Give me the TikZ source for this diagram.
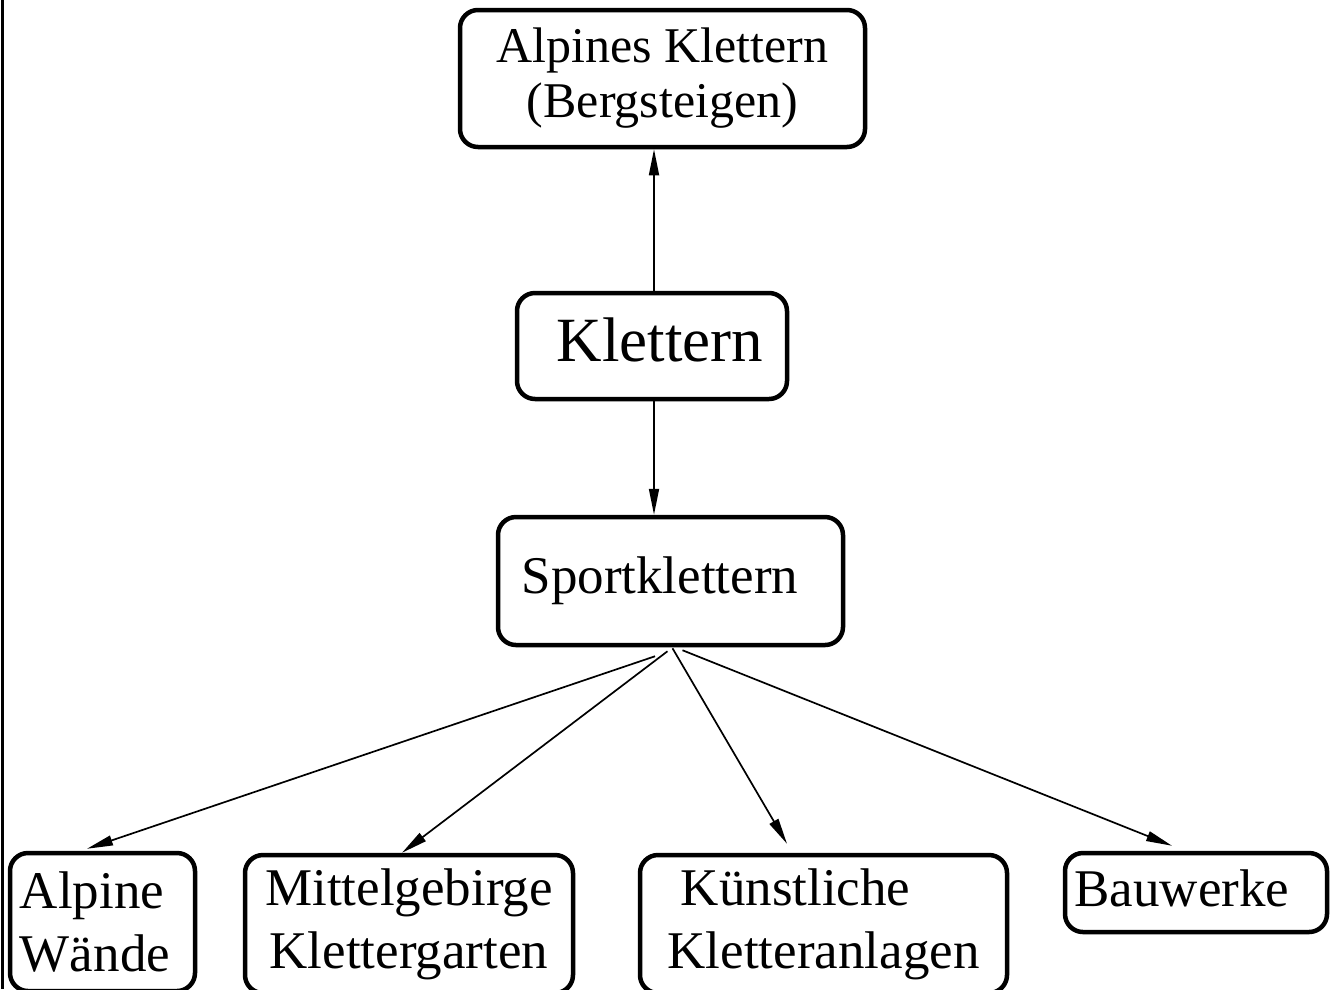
\documentclass[tikz,border=0pt]{standalone}
\usepackage{fontspec}
\setmainfont{Liberation Serif}
\usetikzlibrary{arrows.meta}
\tikzset{
  box/.style={draw, line width=4.5pt, rounded corners=18pt, align=center, inner sep=0pt, font=\fontsize{53}{63}\selectfont},
  edge/.style={-{Triangle[length=26pt,width=10pt]}, line width=1.7pt}
}

\begin{document}
\begin{tikzpicture}[x=1pt, y=-1pt]
    \useasboundingbox (0,0) rectangle (1332,989);
    \clip (0,0) rectangle (1332,989);

    % Rand links
    \draw[line width=3pt] (2,0) -- (2,989);

    % Oben
    \node[box, minimum width=405pt, minimum height=137pt, font=\fontsize{50}{55}\selectfont] (alpin) at (662.5,78.5) {Alpines Klettern\\(Bergsteigen)};

    % Mitte
    \node[box, minimum width=270pt, minimum height=106pt, text depth=12pt, font=\fontsize{63}{70}\selectfont] (klett) at (652,346) {\hspace*{16pt}Klettern};
    \node[box, minimum width=345pt, minimum height=128pt] (sport) at (670.5,581) {Sportklettern\hspace*{21pt}};

    \draw[edge] ([xshift=2pt]klett.north) -- ([xshift=-8.5pt]alpin.south);
    \draw[edge] ([xshift=2pt]klett.south) -- ([xshift=-16.5pt]sport.north);

    % Unten
    \node[box, minimum width=185pt, minimum height=138pt, align=left] (waende) at (102.5,922) {Alpine\hspace*{15pt}\\Wände\hspace*{15pt}};
    \node[box, minimum width=328pt, minimum height=138pt] (mittel) at (409,924) {Mittelgebirge\\Klettergarten};
    \node[box, minimum width=367pt, minimum height=138pt, align=left] (kuenst) at (823.5,924) {\ Künstliche\\Kletteranlagen};
    \node[box, minimum width=262pt, minimum height=79pt, text depth=8pt] (bau) at (1196,892.5) {Bauwerke\hspace*{28pt}};

    \draw[edge] ([xshift=-15.5pt,yshift=-9pt]sport.south) -- ([xshift=-15.5pt,yshift=2pt]waende.north);
    \draw[edge] ([xshift=-3pt,yshift=-4pt]sport.south) -- ([xshift=-7pt]mittel.north);
    \draw[edge] ([xshift=2pt,yshift=-1pt]sport.south) -- ([xshift=-36.5pt,yshift=9pt]kuenst.north);
    \draw[edge] ([xshift=12pt,yshift=-3pt]sport.south) -- ([xshift=-24pt,yshift=5pt]bau.north);
\end{tikzpicture}
\end{document}
